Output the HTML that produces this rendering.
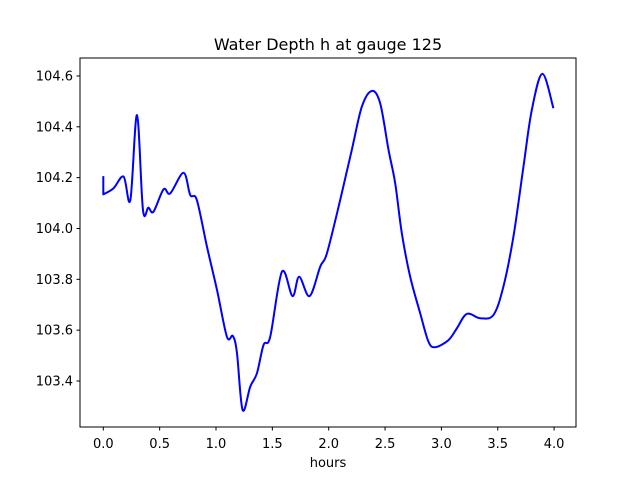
<!DOCTYPE html>
<html><head><meta charset="utf-8"><style>
html,body{margin:0;padding:0;background:#fff;}
svg{display:block;font-family:"DejaVu Sans","Liberation Sans",sans-serif;}
</style></head><body>
<svg width="640" height="480" viewBox="0 0 640 480">
<rect x="0" y="0" width="640" height="480" fill="#fff"/>
<text x="328" y="50" font-size="16" text-anchor="middle">Water Depth h at gauge 125</text>
<g id="plot"></g>
<rect x="80" y="58" width="496" height="369" fill="none" stroke="#000" stroke-width="1"/>
<g id="xt"></g>
<g id="yt"></g>
<text x="328" y="467" font-size="13" text-anchor="middle">hours</text>
</svg>
<script>
const tVals=[0,0,0.09,0.18,0.24,0.299,0.352,0.40,0.445,0.535,0.594,0.712,0.771,0.83,0.92,1.009,1.097,1.15,1.186,1.236,1.304,1.363,1.422,1.481,1.585,1.679,1.738,1.83,1.925,1.984,2.102,2.205,2.294,2.383,2.457,2.531,2.59,2.649,2.723,2.812,2.885,2.945,3.063,3.137,3.226,3.344,3.462,3.55,3.639,3.728,3.802,3.896,3.994];
const hVals=[104.206,104.134,104.158,104.204,104.112,104.446,104.073,104.082,104.066,104.154,104.138,104.219,104.132,104.112,103.928,103.758,103.574,103.577,103.51,103.286,103.378,103.43,103.542,103.574,103.83,103.734,103.81,103.734,103.85,103.902,104.112,104.309,104.479,104.541,104.492,104.309,104.178,103.981,103.81,103.666,103.555,103.533,103.561,103.607,103.664,103.647,103.66,103.771,103.968,104.243,104.466,104.608,104.473];
const xTicks=[0,0.5,1,1.5,2,2.5,3,3.5,4];
const xTickLabels=["0.0","0.5","1.0","1.5","2.0","2.5","3.0","3.5","4.0"];
const yTicks=[103.4,103.6,103.8,104.0,104.2,104.4,104.6];
const yTickLabels=["103.4","103.6","103.8","104.0","104.2","104.4","104.6"];
const NS="http://www.w3.org/2000/svg";
function xs(t){return 103.3+112.7*t;}
function ys(h){return 381-(h-103.4)*254.2;}
const pts=tVals.map((t,i)=>[xs(t),ys(hVals[i])]);
let d="M"+pts[0][0].toFixed(2)+","+pts[0][1].toFixed(2);
for(let i=0;i<pts.length-1;i++){
  const p0=pts[Math.max(0,i-1)],p1=pts[i],p2=pts[i+1],p3=pts[Math.min(pts.length-1,i+2)];
  if(i===0){d+=" L"+p2[0].toFixed(2)+","+p2[1].toFixed(2);continue;}
  const q0=(i===1)?p1:p0;
  const c1=[p1[0]+(p2[0]-q0[0])/6,p1[1]+(p2[1]-q0[1])/6];
  const c2=[p2[0]-(p3[0]-p1[0])/6,p2[1]-(p3[1]-p1[1])/6];
  d+=" C"+c1.map(v=>v.toFixed(2)).join(",")+" "+c2.map(v=>v.toFixed(2)).join(",")+" "+p2.map(v=>v.toFixed(2)).join(",");
}
const path=document.createElementNS(NS,"path");
path.setAttribute("d",d);
path.setAttribute("fill","none");
path.setAttribute("stroke","#0000ff");
path.setAttribute("stroke-width","2");
path.setAttribute("stroke-linejoin","round");


document.getElementById("plot").appendChild(path);
const xt=document.getElementById("xt");
xTicks.forEach((v,i)=>{
  const x=xs(v);
  const l=document.createElementNS(NS,"line");
  l.setAttribute("x1",x);l.setAttribute("x2",x);l.setAttribute("y1",427);l.setAttribute("y2",430.5);
  l.setAttribute("stroke","#000");
  
  
  xt.appendChild(l);
  const tx=document.createElementNS(NS,"text");
  tx.setAttribute("x",x);tx.setAttribute("y",448);tx.setAttribute("font-size","13");tx.setAttribute("text-anchor","middle");
  tx.textContent=xTickLabels[i];
  
  
  xt.appendChild(tx);
});
const yt=document.getElementById("yt");
yTicks.forEach((v,i)=>{
  const y=ys(v);
  const l=document.createElementNS(NS,"line");
  l.setAttribute("x1",76.5);l.setAttribute("x2",80);l.setAttribute("y1",y);l.setAttribute("y2",y);
  l.setAttribute("stroke","#000");
  
  
  yt.appendChild(l);
  const tx=document.createElementNS(NS,"text");
  tx.setAttribute("x",73);tx.setAttribute("y",y+4.5);tx.setAttribute("font-size","13");tx.setAttribute("text-anchor","end");
  tx.textContent=yTickLabels[i];
  
  
  yt.appendChild(tx);
});
</script>
</body></html>
